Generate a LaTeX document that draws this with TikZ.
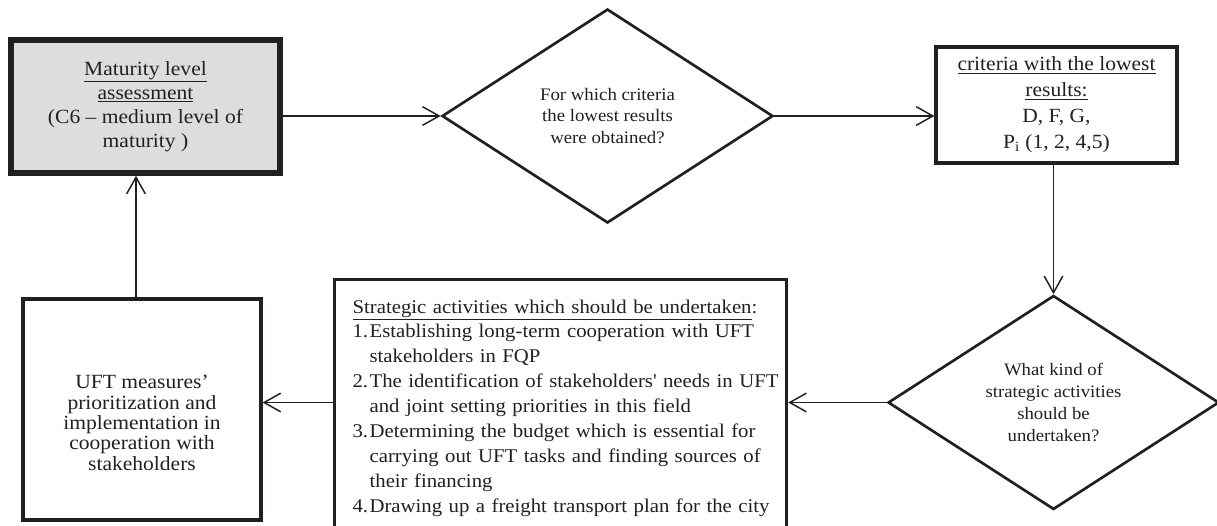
\documentclass[tikz,border=0pt]{standalone}
\usepackage{fontspec}
\setmainfont{Liberation Serif}[FakeStretch=1.07]
\usetikzlibrary{shapes.geometric,arrows.meta}

\definecolor{ink}{RGB}{35,31,32}
\definecolor{matgray}{RGB}{220,221,223}

\tikzset{every picture/.style={line width=0.75pt}}
\tikzset{
  stepbox/.style={draw=ink, text=ink, rectangle, line width=2.4pt, align=center, inner sep=0pt},
  question/.style={draw=ink, text=ink, diamond, aspect=1.55, line width=2pt, align=center, inner sep=0pt,
    minimum width=248.25pt, minimum height=160.5pt, font=\fontsize{13.2}{16.3}\selectfont},
  flow/.style={draw=ink, line width=1.1pt, -{Straight Barb[length=12.5pt,width=14pt,line width=1.1pt]}}
}

\begin{document}
\begin{tikzpicture}[x=0.75pt,y=0.75pt,yscale=-1,xscale=1]
    \useasboundingbox (0,0) rectangle (1217,525);

    %Flowchart: Process [maturity level]
    \node [stepbox, fill=matgray, line width=4.1pt, minimum width=201.75pt, minimum height=99.75pt,
      font=\fontsize{15.1}{18}\selectfont] (mat) at (145.5,106.5)
      {\underline{Maturity level}\\\underline{assessment}\\(C6 -- medium level of\\maturity )};
    %Flowchart: Decision [lowest results]
    \node [question] (lowq) at (607.5,116) {For which criteria\\the lowest results\\were obtained?};
    %Flowchart: Process [criteria]
    \node [stepbox, minimum width=180.75pt, minimum height=87pt,
      font=\fontsize{15.1}{19.5}\selectfont] (crit) at (1056.5,105)
      {\underline{criteria with the lowest}\\\underline{results:}\\D, F, G,\\P\textsubscript{i} (1, 2, 4,5)};
    %Flowchart: Decision [activities]
    \node [question, font=\fontsize{13.15}{16.5}\selectfont] (actq) at (1053.5,402.5)
      {What kind of\\strategic activities\\should be\\undertaken?};
    %Flowchart: Process [activities list]
    \node [stepbox, anchor=north west, align=left, inner xsep=13.5pt, inner ysep=12pt, text width=312pt,
      font=\fontsize{14.55}{18.7}\selectfont] (acts) at (333,278)
      {\begin{tabular}[t]{@{}p{12.75pt}@{}l@{}}
        \multicolumn{2}{@{}l@{}}{\underline{Strategic activities which should be undertaken}:}\\
        1. & Establishing long-term cooperation with UFT\\
           & stakeholders in FQP\\
        2. & The identification of stakeholders\textquotesingle{} needs in UFT\\
           & and joint setting priorities in this field\\
        3. & Determining the budget which is essential for\\
           & carrying out UFT tasks and finding sources of\\
           & their financing\\
        4. & Drawing up a freight transport plan for the city
      \end{tabular}};
    %Flowchart: Process [measures]
    \node [stepbox, minimum width=178.5pt, minimum height=165.75pt,
      font=\fontsize{15.1}{15.3}\selectfont] (uft) at (142,409.5)
      {\rule{0pt}{30pt}UFT measures’\\prioritization and\\implementation in\\cooperation with\\stakeholders};

    %Straight Lines
    \draw [flow] (lowq.west -| mat.east) -- (lowq.west);
    \draw [flow] (lowq.east) -- (lowq.east -| crit.west);
    \draw [flow] (crit.south -| actq.north) -- (actq.north);
    \draw [flow] (actq.west) -- (actq.west -| acts.east);
    \draw [flow] (actq.west -| acts.west) -- (actq.west -| uft.east);
    \coordinate (upfoot) at ([xshift=-4.5pt]uft.north);
    \draw [flow] (upfoot) -- (upfoot |- mat.south);

\end{tikzpicture}
\end{document}
